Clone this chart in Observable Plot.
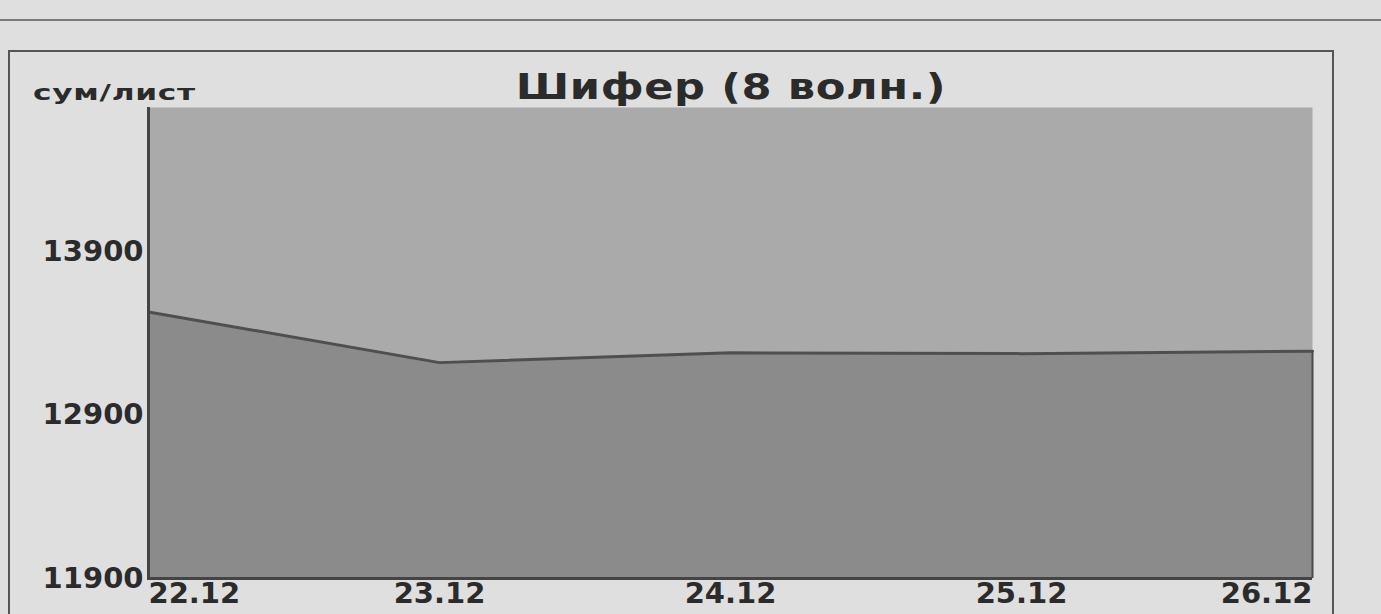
<!DOCTYPE html>
<html>
<head>
<meta charset="utf-8">
<script src="https://cdn.jsdelivr.net/npm/d3@7"></script>
<script src="https://cdn.jsdelivr.net/npm/@observablehq/plot@0.6"></script>
<style>
  html, body { margin: 0; padding: 0; background: #dfdfdf; }
  #wrap { position: relative; width: 1381px; height: 614px; overflow: hidden; font-family: "DejaVu Sans", sans-serif; color: #2b2b2b; }
  .topline { position: absolute; left: 0; top: 19px; width: 1381px; height: 2px; background: #7a7a7a; }
  .frame { position: absolute; left: 8px; top: 50px; width: 1326px; height: 620px; border: 2px solid #555; box-sizing: border-box; }
  #title { position: absolute; left: 731px; top: 69px; transform: translateX(-50%) scaleX(1.2); font-weight: bold; font-size: 36px; line-height: 36px; letter-spacing: 0.5px; white-space: nowrap; }
  #unit { position: absolute; left: 33px; top: 82px; transform-origin: 0 0; transform: scaleX(1.42); font-weight: bold; font-size: 22px; line-height: 22px; letter-spacing: 0.5px; white-space: nowrap; }
  #chart { position: absolute; left: 0; top: 0; }
  #chart svg text { font-weight: bold; }
</style>
</head>
<body>
<div id="wrap">
  <div class="topline"></div>
  <div class="frame"></div>
  <div id="title">Шифер (8 волн.)</div>
  <div id="unit">сум/лист</div>
  <div id="chart"></div>
</div>
<script>
const dates = ["22.12", "23.12", "24.12", "25.12", "26.12"];
const prices = [13530, 13220, 13280, 13275, 13290];
const yTicks = [11900, 12900, 13900];
const yMax = 14780;

const rows = dates.map((d, i) => ({date: d, price: prices[i]}));
const base = yTicks[0];
const last = dates.length - 1;

const plot = Plot.plot({
  width: 1381,
  height: 614,
  marginLeft: 147,
  marginRight: 69,
  marginTop: 107,
  marginBottom: 36,
  style: {background: "transparent", fontFamily: "DejaVu Sans, sans-serif", fontSize: "29px", color: "#2b2b2b"},
  x: {type: "point", domain: dates, padding: 0, axis: null},
  y: {domain: [base, yMax], axis: null},
  marks: [
    Plot.frame({fill: "#aaaaaa", stroke: null}),
    Plot.areaY(rows, {x: "date", y1: base, y2: "price", fill: "#8b8b8b"}),
    Plot.lineY(rows, {x: "date", y: "price", stroke: "#4f4f4f", strokeWidth: 3}),
    Plot.ruleY([base], {stroke: "#444", strokeWidth: 3}),
    Plot.ruleX([dates[0]], {stroke: "#444", strokeWidth: 3}),
    Plot.ruleX(rows, {filter: (d, i) => i === last, x: "date", y1: base, y2: "price", stroke: "#4a4a4a", strokeWidth: 2}),
    Plot.axisY({ticks: yTicks, tickSize: 0, tickPadding: 4, fontSize: 29, label: null, tickFormat: d => String(d)}),
    Plot.text(rows, {filter: (d, i) => i === 0, x: "date", y: base, text: "date", textAnchor: "start", lineAnchor: "top", dy: 4, fontSize: 29}),
    Plot.text(rows, {filter: (d, i) => i > 0 && i < last, x: "date", y: base, text: "date", textAnchor: "middle", lineAnchor: "top", dy: 4, fontSize: 29}),
    Plot.text(rows, {filter: (d, i) => i === last, x: "date", y: base, text: "date", textAnchor: "end", lineAnchor: "top", dy: 4, fontSize: 29})
  ]
});
document.getElementById("chart").appendChild(plot);
</script>
</body>
</html>
